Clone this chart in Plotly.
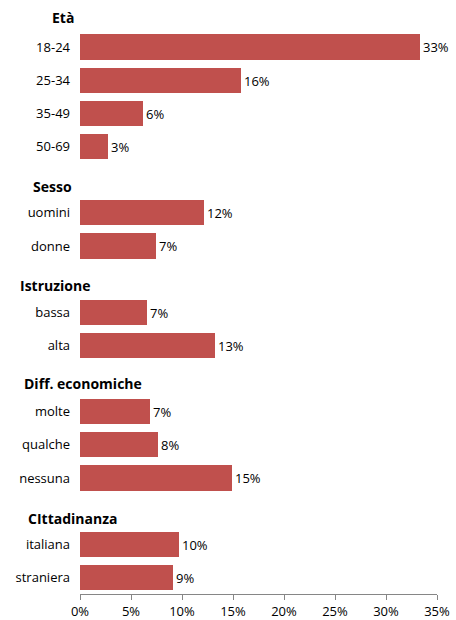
import plotly.graph_objects as go

# Group headings and their rows
groups = ["Età", "Sesso", "Istruzione", "Diff. economiche", "CIttadinanza"]

eta_labels = ["18-24", "25-34", "35-49", "50-69"]
eta_values = [33.3, 15.8, 6.2, 2.7]

sesso_labels = ["uomini", "donne"]
sesso_values = [12.2, 7.45]

istruzione_labels = ["bassa", "alta"]
istruzione_values = [6.6, 13.2]

diff_labels = ["molte", "qualche", "nessuna"]
diff_values = [6.9, 7.6, 14.9]

citt_labels = ["italiana", "straniera"]
citt_values = [9.7, 9.15]

x_ticks = [0, 5, 10, 15, 20, 25, 30, 35]

group_items = [
    (eta_labels, eta_values),
    (sesso_labels, sesso_values),
    (istruzione_labels, istruzione_values),
    (diff_labels, diff_values),
    (citt_labels, citt_values),
]

# Left edge (px, relative to plot area) for each bold heading
header_shift = [-30, -49, -62, -58, -54]
header_yshift = [-4, -7, -6, -5, -7]

FONT = "Open Sans"
BAR_COLOR = "#C0504D"

# Build row positions: one row for each heading, one per category
bar_y, bar_x, tick_pos, tick_text, header_rows = [], [], [], [], []
row = 0
for (labels, values) in group_items:
    header_rows.append(row)
    row += 1
    for lab, val in zip(labels, values):
        bar_y.append(row)
        bar_x.append(val)
        tick_pos.append(row)
        tick_text.append(lab)
        row += 1
last_row = row - 1

fig = go.Figure(
    go.Bar(
        x=bar_x,
        y=bar_y,
        orientation="h",
        width=0.76,
        marker=dict(color=BAR_COLOR, line=dict(width=0)),
        texttemplate="%{x:.0f}%",
        textposition="outside",
        textfont=dict(family=FONT, size=13, color="#000000"),
        cliponaxis=False,
        hoverinfo="skip",
    )
)

annotations = []
for name, r, xs, ys in zip(groups, header_rows, header_shift, header_yshift):
    annotations.append(
        dict(
            text="<b>%s</b>" % name,
            xref="paper",
            yref="y",
            x=0,
            y=r,
            xanchor="left",
            yanchor="middle",
            xshift=xs,
            yshift=ys,
            showarrow=False,
            font=dict(family=FONT, size=14, color="#000000"),
        )
    )

fig.update_layout(
    width=456,
    height=620,
    margin=dict(l=80, r=19, t=0, b=26),
    paper_bgcolor="white",
    plot_bgcolor="white",
    showlegend=False,
    bargap=0,
    annotations=annotations,
    font=dict(family=FONT, size=13, color="#000000"),
    xaxis=dict(
        range=[0, 35],
        tickvals=x_ticks,
        ticktext=["%d%%" % v for v in x_ticks],
        showgrid=False,
        zeroline=False,
        showline=True,
        linecolor="#868686",
        linewidth=1,
        ticks="outside",
        ticklen=5,
        tickcolor="#868686",
        tickfont=dict(family=FONT, size=13, color="#000000"),
        fixedrange=True,
    ),
    yaxis=dict(
        range=[last_row + 0.5, -0.42],
        tickvals=tick_pos,
        ticktext=tick_text,
        showgrid=False,
        zeroline=False,
        showline=False,
        ticks="",
        ticklabelstandoff=9,
        tickfont=dict(family=FONT, size=13, color="#000000"),
        fixedrange=True,
    ),
)

fig.write_html("out.html")
